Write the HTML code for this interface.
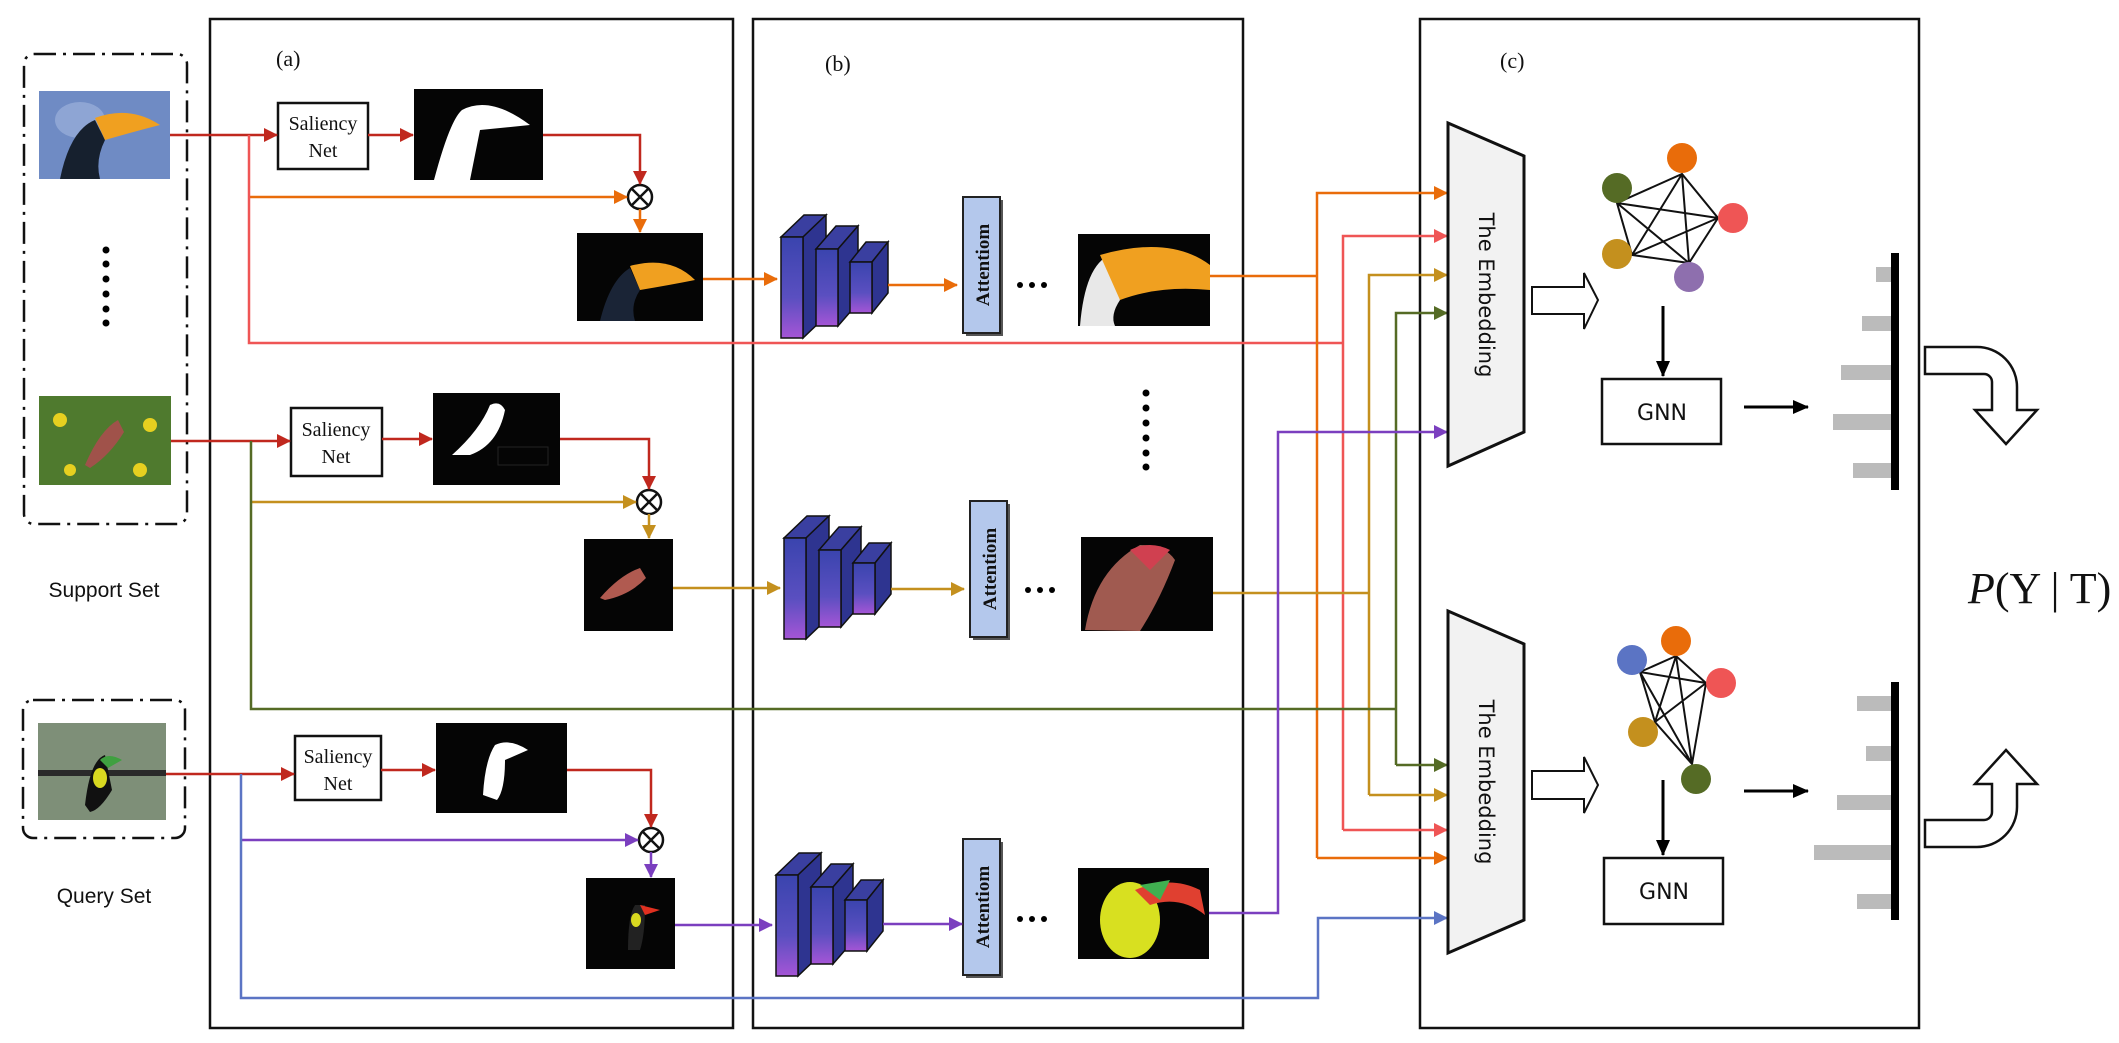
<!DOCTYPE html>
<html><head><meta charset="utf-8"><style>html,body{margin:0;padding:0;background:#fff}svg{display:block}</style></head><body>
<svg width="2119" height="1043" viewBox="0 0 2119 1043" xmlns="http://www.w3.org/2000/svg">
<defs>
<linearGradient id="cg" x1="0" y1="0" x2="0" y2="1"><stop offset="0" stop-color="#3a44ae"/><stop offset="0.6" stop-color="#5a4fc0"/><stop offset="1" stop-color="#a555d6"/></linearGradient>
<marker id="mr" markerUnits="userSpaceOnUse" markerWidth="14" markerHeight="14" refX="13" refY="7" orient="auto"><path d="M0,0 L14,7 L0,14 Z" fill="#c0281e"/></marker>
<marker id="mo" markerUnits="userSpaceOnUse" markerWidth="14" markerHeight="14" refX="13" refY="7" orient="auto"><path d="M0,0 L14,7 L0,14 Z" fill="#e96c0a"/></marker>
<marker id="ms" markerUnits="userSpaceOnUse" markerWidth="14" markerHeight="14" refX="13" refY="7" orient="auto"><path d="M0,0 L14,7 L0,14 Z" fill="#ef5555"/></marker>
<marker id="mg" markerUnits="userSpaceOnUse" markerWidth="14" markerHeight="14" refX="13" refY="7" orient="auto"><path d="M0,0 L14,7 L0,14 Z" fill="#c4901e"/></marker>
<marker id="ml" markerUnits="userSpaceOnUse" markerWidth="14" markerHeight="14" refX="13" refY="7" orient="auto"><path d="M0,0 L14,7 L0,14 Z" fill="#556b25"/></marker>
<marker id="mp" markerUnits="userSpaceOnUse" markerWidth="14" markerHeight="14" refX="13" refY="7" orient="auto"><path d="M0,0 L14,7 L0,14 Z" fill="#7b3fbf"/></marker>
<marker id="mb" markerUnits="userSpaceOnUse" markerWidth="14" markerHeight="14" refX="13" refY="7" orient="auto"><path d="M0,0 L14,7 L0,14 Z" fill="#5b74c4"/></marker>
<marker id="mk" markerUnits="userSpaceOnUse" markerWidth="16" markerHeight="14" refX="15" refY="7" orient="auto"><path d="M0,0 L16,7 L0,14 Z" fill="#000"/></marker>
<g id="cnn">
<polygon points="781,237 803,237 826,215 804,215" fill="#3a3fa0" stroke="#111" stroke-width="1.5"/>
<polygon points="803,237 826,215 826,316 803,338" fill="#2e3490" stroke="#111" stroke-width="1.5"/>
<rect x="781" y="237" width="22" height="101" fill="url(#cg)" stroke="#111" stroke-width="1.5"/>
<polygon points="816,249 838,249 858,226 836,226" fill="#3a3fa0" stroke="#111" stroke-width="1.5"/>
<polygon points="838,249 858,226 858,303 838,326" fill="#2e3490" stroke="#111" stroke-width="1.5"/>
<rect x="816" y="249" width="22" height="77" fill="url(#cg)" stroke="#111" stroke-width="1.5"/>
<polygon points="850,262 872,262 888,242 866,242" fill="#3a3fa0" stroke="#111" stroke-width="1.5"/>
<polygon points="872,262 888,242 888,293 872,313" fill="#2e3490" stroke="#111" stroke-width="1.5"/>
<rect x="850" y="262" width="22" height="51" fill="url(#cg)" stroke="#111" stroke-width="1.5"/>
</g>
<g id="att">
<rect x="966" y="200" width="37" height="136" fill="#555" />
<rect x="963" y="197" width="37" height="136" fill="#b4c8ec" stroke="#222" stroke-width="2"/>
<text transform="translate(989,265) rotate(-90)" text-anchor="middle" font-family="Liberation Serif,serif" font-weight="bold" font-size="19" fill="#111">Attentiom</text>
</g>
<g id="dots3" fill="#000"><circle cx="1020" cy="285" r="3"/><circle cx="1032" cy="285" r="3"/><circle cx="1044" cy="285" r="3"/></g>
</defs>

<g fill="none" stroke="#111" stroke-width="2.5">
<rect x="210" y="19" width="523" height="1009"/>
<rect x="753" y="19" width="490" height="1009"/>
<rect x="1420" y="19" width="499" height="1009"/>
</g>
<g font-family="Liberation Serif,serif" font-size="22" fill="#111">
<text x="276" y="66">(a)</text><text x="825" y="71">(b)</text><text x="1500" y="68">(c)</text>
</g>

<g fill="none" stroke="#111" stroke-width="2.5" stroke-dasharray="22,7,3,7">
<rect x="24" y="54" width="163" height="470" rx="10"/>
<rect x="23" y="700" width="162" height="138" rx="10"/>
</g>
<g font-family="Liberation Sans,sans-serif" font-size="21" fill="#111" text-anchor="middle">
<text x="104" y="597">Support Set</text><text x="104" y="903">Query Set</text>
</g>
<g fill="#000"><circle cx="106" cy="250" r="3.5"/><circle cx="106" cy="264" r="3.5"/><circle cx="106" cy="279" r="3.5"/><circle cx="106" cy="294" r="3.5"/><circle cx="106" cy="309" r="3.5"/><circle cx="106" cy="323" r="3.5"/>
<circle cx="1146" cy="393" r="3.5"/><circle cx="1146" cy="408" r="3.5"/><circle cx="1146" cy="423" r="3.5"/><circle cx="1146" cy="438" r="3.5"/><circle cx="1146" cy="453" r="3.5"/><circle cx="1146" cy="467" r="3.5"/></g>

<rect x="39" y="91" width="131" height="88" fill="#6f8bc4"/>
<ellipse cx="80" cy="120" rx="25" ry="18" fill="#9bb1dc" opacity="0.7"/>
<path d="M60,179 Q70,130 95,120 L105,140 Q95,160 100,179 Z" fill="#16202e"/>
<path d="M95,118 Q130,105 160,125 Q140,130 105,140 Z" fill="#f0a020"/>
<rect x="39" y="396" width="132" height="89" fill="#4f7a2e"/>
<circle cx="60" cy="420" r="7" fill="#e6d020"/><circle cx="150" cy="425" r="7" fill="#e6d020"/><circle cx="140" cy="470" r="7" fill="#e6d020"/><circle cx="70" cy="470" r="6" fill="#e6d020"/>
<path d="M85,465 Q100,430 118,420 L124,432 Q110,455 90,468 Z" fill="#a0524a"/>
<rect x="38" y="723" width="128" height="97" fill="#7e8f78"/>
<rect x="38" y="770" width="128" height="6" fill="#2a2a2a"/>
<path d="M85,805 Q90,760 105,755 L112,790 Q100,810 90,812 Z" fill="#111"/>
<path d="M100,760 Q108,752 122,760 L108,768 Z" fill="#3fa040"/>
<ellipse cx="100" cy="778" rx="7" ry="10" fill="#d8d820"/>

<g fill="#fff" stroke="#111" stroke-width="2.5"><rect x="278" y="103" width="90" height="66"/><rect x="291" y="408" width="91" height="68"/><rect x="295" y="736" width="86" height="64"/></g>
<g font-family="Liberation Serif,serif" font-size="20" fill="#111" text-anchor="middle">
<text x="323" y="130">Saliency</text><text x="323" y="157">Net</text>
<text x="336" y="436">Saliency</text><text x="336" y="463">Net</text>
<text x="338" y="763">Saliency</text><text x="338" y="790">Net</text>
</g>

<rect x="414" y="89" width="129" height="91" fill="#050505"/>
<path d="M434,180 Q450,120 462,110 Q490,95 530,125 L480,130 L470,180 Z" fill="#fff"/>
<rect x="433" y="393" width="127" height="92" fill="#050505"/>
<path d="M452,455 Q480,430 490,405 Q500,400 505,410 Q498,445 470,455 Z" fill="#fff"/>
<rect x="498" y="447" width="50" height="18" fill="none" stroke="#222" stroke-width="1"/>
<rect x="436" y="723" width="131" height="90" fill="#050505"/>
<path d="M483,795 Q485,760 495,745 Q510,738 528,750 L505,760 Q505,790 497,800 Z" fill="#fff"/>

<rect x="577" y="233" width="126" height="88" fill="#050505"/>
<path d="M600,321 Q610,280 630,268 L640,290 Q630,305 635,321 Z" fill="#1a2436"/>
<path d="M630,266 Q670,255 695,280 Q670,285 640,290 Z" fill="#f0a020"/>
<rect x="584" y="539" width="89" height="92" fill="#050505"/>
<path d="M600,598 Q620,575 640,568 L646,578 Q630,595 605,600 Z" fill="#b05a50"/>
<rect x="586" y="878" width="89" height="91" fill="#050505"/>
<path d="M628,950 Q628,915 635,905 L645,905 Q645,935 640,950 Z" fill="#222"/>
<ellipse cx="636" cy="920" rx="5" ry="7" fill="#d8d820"/><path d="M640,905 L660,910 L645,915 Z" fill="#e03020"/>

<rect x="1078" y="234" width="132" height="92" fill="#050505"/>
<path d="M1080,326 Q1085,265 1110,255 L1120,300 Q1110,315 1115,326 Z" fill="#e8e8e8"/>
<path d="M1100,255 Q1170,235 1210,265 L1210,290 Q1160,285 1120,300 Z" fill="#f0a020"/>
<rect x="1081" y="537" width="132" height="94" fill="#050505"/>
<path d="M1085,630 Q1095,570 1140,545 Q1165,545 1175,560 Q1160,600 1140,631 Z" fill="#a05a50"/>
<path d="M1130,550 Q1150,540 1170,550 L1150,570 Z" fill="#d04050"/>
<rect x="1078" y="868" width="131" height="91" fill="#050505"/>
<ellipse cx="1130" cy="920" rx="30" ry="38" fill="#d8e020"/>
<path d="M1135,890 Q1170,875 1200,890 L1205,915 Q1180,895 1150,905 Z" fill="#e04030"/>
<path d="M1140,885 L1170,880 L1160,900 Z" fill="#40b050"/>

<g fill="#fff" stroke="#111" stroke-width="2.5">
<circle cx="640" cy="197" r="12"/><circle cx="649" cy="502" r="12"/><circle cx="651" cy="840" r="12"/>
</g>
<g stroke="#111" stroke-width="2.5">
<path d="M631.5,188.5 L648.5,205.5 M648.5,188.5 L631.5,205.5"/>
<path d="M640.5,493.5 L657.5,510.5 M657.5,493.5 L640.5,510.5"/>
<path d="M642.5,831.5 L659.5,848.5 M659.5,831.5 L642.5,848.5"/>
</g>

<use href="#cnn"/><use href="#cnn" transform="translate(3,301)"/><use href="#cnn" transform="translate(-5,638)"/>
<use href="#att"/><use href="#att" transform="translate(7,304)"/><use href="#att" transform="translate(0,642)"/>
<use href="#dots3"/><use href="#dots3" transform="translate(8,305)"/><use href="#dots3" transform="translate(0,634)"/>

<g fill="none" stroke-width="2.5">
<path d="M170,135 H277" stroke="#c0281e" marker-end="url(#mr)"/>
<path d="M368,135 H413" stroke="#c0281e" marker-end="url(#mr)"/>
<path d="M543,135 H640 V184" stroke="#c0281e" marker-end="url(#mr)"/>
<path d="M249,197 H627" stroke="#e96c0a" marker-end="url(#mo)"/>
<path d="M640,209 V232" stroke="#e96c0a" marker-end="url(#mo)"/>
<path d="M703,279 H777" stroke="#e96c0a" marker-end="url(#mo)"/>
<path d="M888,285 H957" stroke="#e96c0a" marker-end="url(#mo)"/>

<path d="M171,441 H290" stroke="#c0281e" marker-end="url(#mr)"/>
<path d="M382,439 H432" stroke="#c0281e" marker-end="url(#mr)"/>
<path d="M560,439 H649 V489" stroke="#c0281e" marker-end="url(#mr)"/>
<path d="M251,502 H636" stroke="#c4901e" marker-end="url(#mg)"/>
<path d="M649,514 V538" stroke="#c4901e" marker-end="url(#mg)"/>
<path d="M673,588 H780" stroke="#c4901e" marker-end="url(#mg)"/>
<path d="M891,589 H964" stroke="#c4901e" marker-end="url(#mg)"/>

<path d="M166,774 H294" stroke="#c0281e" marker-end="url(#mr)"/>
<path d="M381,770 H435" stroke="#c0281e" marker-end="url(#mr)"/>
<path d="M567,770 H651 V827" stroke="#c0281e" marker-end="url(#mr)"/>
<path d="M241,840 H638" stroke="#7b3fbf" marker-end="url(#mp)"/>
<path d="M651,852 V877" stroke="#7b3fbf" marker-end="url(#mp)"/>
<path d="M675,925 H772" stroke="#7b3fbf" marker-end="url(#mp)"/>
<path d="M883,924 H962" stroke="#7b3fbf" marker-end="url(#mp)"/>

<path d="M249,135 V343 H1343" stroke="#ef5555"/>
<path d="M1343,830 V236 H1447" stroke="#ef5555" marker-end="url(#ms)"/>
<path d="M1343,830 H1447" stroke="#ef5555" marker-end="url(#ms)"/>
<path d="M1210,276 H1317" stroke="#e96c0a"/>
<path d="M1317,858 V193 H1447" stroke="#e96c0a" marker-end="url(#mo)"/>
<path d="M1317,858 H1447" stroke="#e96c0a" marker-end="url(#mo)"/>
<path d="M1213,593 H1369" stroke="#c4901e"/>
<path d="M1369,795 V275 H1447" stroke="#c4901e" marker-end="url(#mg)"/>
<path d="M1369,795 H1447" stroke="#c4901e" marker-end="url(#mg)"/>
<path d="M251,441 V709 H1396" stroke="#556b25"/>
<path d="M1396,765 V313 H1447" stroke="#556b25" marker-end="url(#ml)"/>
<path d="M1396,765 H1447" stroke="#556b25" marker-end="url(#ml)"/>
<path d="M1209,913 H1278 V432 H1447" stroke="#7b3fbf" marker-end="url(#mp)"/>
<path d="M241,774 V998 H1318 V918 H1447" stroke="#5b74c4" marker-end="url(#mb)"/>
</g>

<g fill="#f2f2f2" stroke="#111" stroke-width="3">
<polygon points="1448,123 1524,156 1524,432 1448,466"/>
<polygon points="1448,611 1524,644 1524,920 1448,953"/>
</g>
<g font-family="DejaVu Sans,sans-serif" font-size="21" fill="#111" text-anchor="middle">
<text transform="translate(1479,295) rotate(90)">The Embedding</text>
<text transform="translate(1479,782) rotate(90)">The Embedding</text>
</g>
<g fill="#fff" stroke="#111" stroke-width="2">
<polygon points="1532,287 1584,287 1584,273 1598,300 1584,329 1584,314 1532,314"/>
<polygon points="1532,771 1584,771 1584,757 1598,785 1584,813 1584,799 1532,799"/>
</g>

<g stroke="#111" stroke-width="2" fill="none">
<path d="M1617,203 L1682,174 L1718,218 L1689,263 L1632,255 Z M1617,203 L1718,218 M1617,203 L1689,263 M1682,174 L1632,255 M1682,174 L1689,263 M1718,218 L1632,255"/>
<path d="M1640,672 L1676,656 L1706,683 L1692,764 L1655,722 Z M1640,672 L1706,683 M1640,672 L1692,764 M1676,656 L1655,722 M1676,656 L1692,764 M1706,683 L1655,722"/>
</g>
<circle cx="1682" cy="158" r="15" fill="#e96c0a"/><circle cx="1617" cy="188" r="15" fill="#556b25"/><circle cx="1733" cy="218" r="15" fill="#ef5555"/><circle cx="1617" cy="254" r="15" fill="#c4901e"/><circle cx="1689" cy="277" r="15" fill="#8e6fae"/>
<circle cx="1632" cy="660" r="15" fill="#5b74c4"/><circle cx="1676" cy="641" r="15" fill="#e96c0a"/><circle cx="1721" cy="683" r="15" fill="#ef5555"/><circle cx="1643" cy="732" r="15" fill="#c4901e"/><circle cx="1696" cy="779" r="15" fill="#556b25"/>

<g stroke="#000" stroke-width="3" fill="none">
<path d="M1663,306 V376" marker-end="url(#mk)"/>
<path d="M1663,780 V855" marker-end="url(#mk)"/>
<path d="M1744,407 H1808" marker-end="url(#mk)"/>
<path d="M1744,791 H1808" marker-end="url(#mk)"/>
</g>
<g fill="#fff" stroke="#111" stroke-width="2.5"><rect x="1602" y="379" width="119" height="65"/><rect x="1604" y="858" width="119" height="66"/></g>
<g font-family="DejaVu Sans,sans-serif" font-size="22" fill="#111" text-anchor="middle"><text x="1662" y="420">GNN</text><text x="1664" y="899">GNN</text></g>

<g fill="#bbb">
<rect x="1876" y="267" width="16" height="15"/><rect x="1862" y="316" width="30" height="15"/><rect x="1841" y="365" width="51" height="15"/><rect x="1833" y="414" width="59" height="16"/><rect x="1853" y="463" width="39" height="15"/>
<rect x="1857" y="696" width="35" height="15"/><rect x="1866" y="746" width="26" height="15"/><rect x="1837" y="795" width="55" height="15"/><rect x="1814" y="845" width="78" height="15"/><rect x="1857" y="894" width="35" height="15"/>
</g>
<rect x="1891" y="253" width="8" height="237" fill="#000"/>
<rect x="1891" y="682" width="8" height="238" fill="#000"/>

<path d="M1925,347 H1977 A40,40 0 0 1 2017,387 V410 H2037 L2006,444 L1975,410 H1992 V382 A8,8 0 0 0 1984,374 H1925 Z" fill="#fff" stroke="#111" stroke-width="2.5"/>
<path d="M1925,347 H1977 A40,40 0 0 1 2017,387 V410 H2037 L2006,444 L1975,410 H1992 V382 A8,8 0 0 0 1984,374 H1925 Z" fill="#fff" stroke="#111" stroke-width="2.5" transform="translate(0,1194) scale(1,-1)"/>

<text x="1968" y="603" font-family="Liberation Serif,serif" font-size="44" fill="#111"><tspan font-style="italic">P</tspan>(Y | T)</text>
</svg>
</body></html>
